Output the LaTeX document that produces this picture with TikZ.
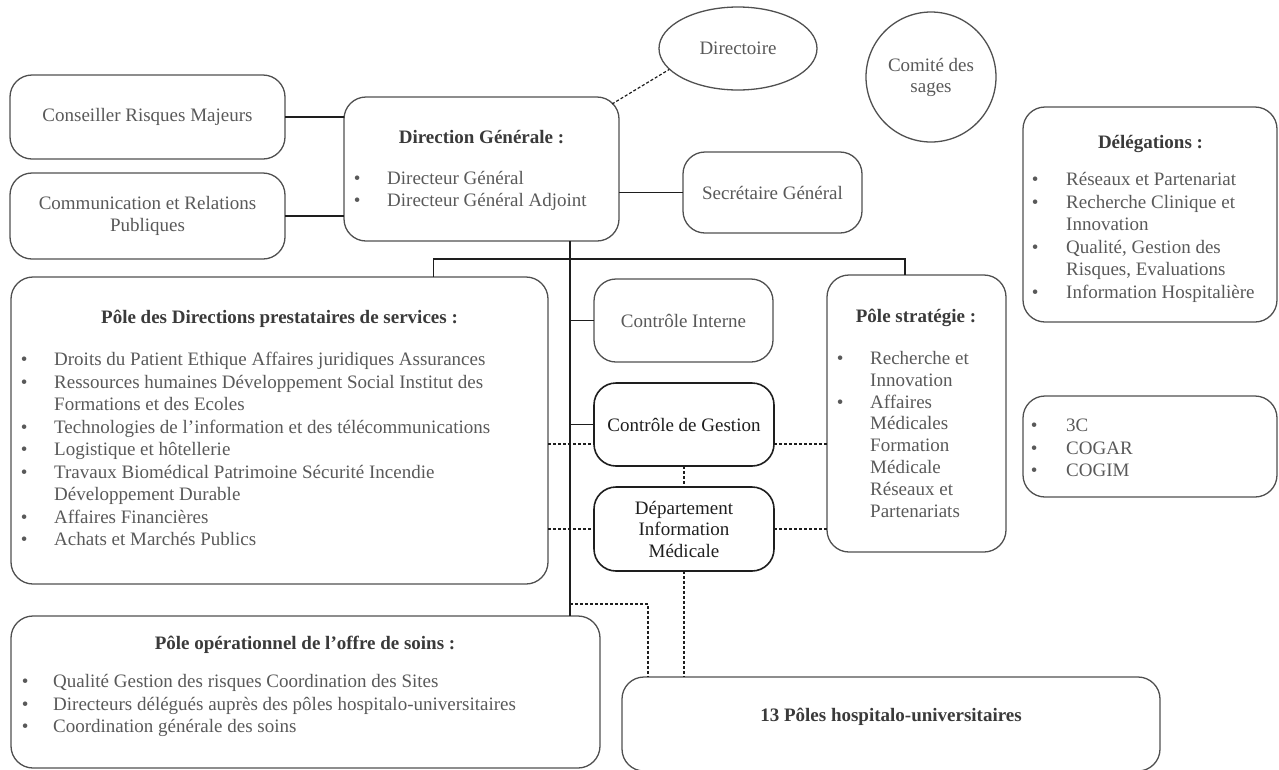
\documentclass[tikz,border=0pt]{standalone}
\usepackage{fontspec}
\setmainfont{Liberation Serif}
\usetikzlibrary{shapes.geometric,calc}

\definecolor{edge}{HTML}{505050}
\definecolor{txt}{HTML}{595959}
\definecolor{ttl}{HTML}{3A3A3A}
\definecolor{ink}{HTML}{1E1E1E}

% bullet list: left gap, rows
\newcommand{\blist}[2]{\begin{tabular}{@{}p{#1}@{}l@{}}#2\end{tabular}}
\newcommand{\bu}{\textbullet}

\tikzset{
  every node/.style={font=\fontsize{19}{22.5}\selectfont, text=txt},
  box/.style={draw=edge, line width=1.3pt, rounded corners=22pt, inner sep=0pt,
    outer sep=0pt, anchor=north west, align=center},
  darkbox/.style={box, draw=ink, line width=1.6pt, text=ink},
  ttlnode/.style={anchor=base, font=\fontsize{19}{22.5}\selectfont\bfseries,
    text=ttl, inner sep=0pt},
  lst/.style={anchor=north west, inner sep=0pt},
  conn/.style={draw=ink, line width=1.4pt},
  dsh/.style={draw=ink, line width=1.2pt, dash pattern=on 3pt off 2pt},
}

\begin{document}
\begin{tikzpicture}[x=1pt,y=-1pt]
\useasboundingbox (0,0) rectangle (1279,769);

% --- top row ---
\node[box, minimum width=275pt, minimum height=84pt] (cons) at (10,75) {Conseiller Risques Majeurs};
\node[box, minimum width=275pt, minimum height=86pt] (comm) at (10,173) {Communication et Relations\\Publiques};

\node[box, minimum width=275pt, minimum height=144pt] (dg) at (344,97) {};
\node[ttlnode] (dgt) at (481.5,143) {Direction Générale :};
\node[lst] (dgl) at (353.7,168.3) {\blist{33.3pt}{\bu & Directeur Général\\ \bu & Directeur Général Adjoint}};

\node[box, minimum width=179pt, minimum height=81pt] (sec) at (683,152) {Secrétaire Général};

\node[draw=edge, line width=1.3pt, ellipse, minimum width=158pt, minimum height=83pt,
  inner sep=0pt] (dir) at (738,48.5) {Directoire};
\node[draw=edge, line width=1.3pt, circle, minimum size=130pt, inner sep=0pt,
  align=center, font=\fontsize{19}{21}\selectfont] (sages) at (931,77) {Comité des\\sages};

% --- right column ---
\node[box, minimum width=254pt, minimum height=215pt] (deleg) at (1023,107) {};
\node[ttlnode] (delt) at (1150.5,148.7) {Délégations :};
\node[lst] (dell) at (1031.7,170) {\blist{34.3pt}{%
  \bu & Réseaux et Partenariat\\
  \bu & Recherche Clinique et\\
      & Innovation\\
  \bu & Qualité, Gestion des\\
      & Risques, Evaluations\\
  \bu & Information Hospitalière}};

\node[box, minimum width=254pt, minimum height=101pt] (cogs) at (1023,396) {};
\node[lst] (cogl) at (1030.7,416) {\blist{35.3pt}{\bu & 3C\\ \bu & COGAR\\ \bu & COGIM}};

% --- middle band ---
\node[box, minimum width=537pt, minimum height=307pt] (pds) at (11,277) {};
\node[ttlnode] (pdst) at (279.5,323) {Pôle des Directions prestataires de services :};
\node[lst] (pdsl) at (20.7,350) {\blist{33.3pt}{%
  \bu & Droits du Patient Ethique Affaires juridiques Assurances\\
  \bu & Ressources humaines Développement Social Institut des\\
      & Formations et des Ecoles\\
  \bu & Technologies de l’information et des télécommunications\\
  \bu & Logistique et hôtellerie\\
  \bu & Travaux Biomédical Patrimoine Sécurité Incendie\\
      & Développement Durable\\
  \bu & Affaires Financières\\
  \bu & Achats et Marchés Publics}};

\node[box, minimum width=179pt, minimum height=83pt] (ci) at (594,279) {Contrôle Interne};
\node[darkbox, minimum width=180pt, minimum height=83pt] (cdg) at (594,383) {Contrôle de Gestion};
\node[darkbox, minimum width=180pt, minimum height=84pt, font=\fontsize{19}{21.5}\selectfont]
  (dim) at (594,487) {Département\\Information\\Médicale};

\node[box, minimum width=179pt, minimum height=277pt] (ps) at (827,275) {};
\node[ttlnode] (pst) at (916,322) {Pôle stratégie :};
\node[lst, font=\fontsize{19}{21.8}\selectfont] (psl) at (836.7,349) {\blist{33.3pt}{%
  \bu & Recherche et\\
      & Innovation\\
  \bu & Affaires\\
      & Médicales\\
      & Formation\\
      & Médicale\\
      & Réseaux et\\
      & Partenariats}};

% --- bottom row ---
\node[box, minimum width=589pt, minimum height=152pt] (opo) at (11,616) {};
\node[ttlnode] (opot) at (305,649) {Pôle opérationnel de l’offre de soins :};
\node[lst] (opol) at (21.7,672) {\blist{31.3pt}{%
  \bu & Qualité Gestion des risques Coordination des Sites\\
  \bu & Directeurs délégués auprès des pôles hospitalo-universitaires\\
  \bu & Coordination générale des soins}};

\node[box, minimum width=538pt, minimum height=94pt] (hu) at (622,677) {};
\node[ttlnode] (hut) at (891,721) {13 Pôles hospitalo-universitaires};

% --- connectors ---
\draw[conn] (cons.east) -- (cons.east -| dg.west);
\draw[conn] (comm.east) -- (comm.east -| dg.west);
\draw[conn] (sec.west -| dg.east) -- (sec.west);
\draw[dsh] ($(dg.north east)+(-7,7)$) -- (dir.197);

\coordinate (tk) at ($(dg.south)+(88.5,0)$);
\draw[conn] (tk) -- (tk |- opo.north);
\coordinate (busL) at (433.5,259);
\coordinate (busR) at (905,259);
\draw[conn] (busL |- pds.north) -- (busL) -- (busR) -- (busR |- ps.north);
\draw[conn] (tk |- ci.west) -- (ci.west);
\draw[conn] (tk |- cdg.west) -- (cdg.west);

\coordinate (dl) at (0,444);
\draw[dsh] (dl -| pds.east) -- (dl -| cdg.west);
\draw[dsh] (dl -| cdg.east) -- (dl -| ps.west);
\draw[dsh] (dim.west -| pds.east) -- (dim.west);
\draw[dsh] (dim.east) -- (dim.east -| ps.west);
\draw[dsh] (cdg.south) -- (dim.north);
\draw[dsh] (dim.south) -- (dim.south |- hu.north);
\coordinate (hk) at (648,604);
\draw[dsh] (hk -| tk) -- (hk) -- (hk |- hu.north);
\end{tikzpicture}
\end{document}
